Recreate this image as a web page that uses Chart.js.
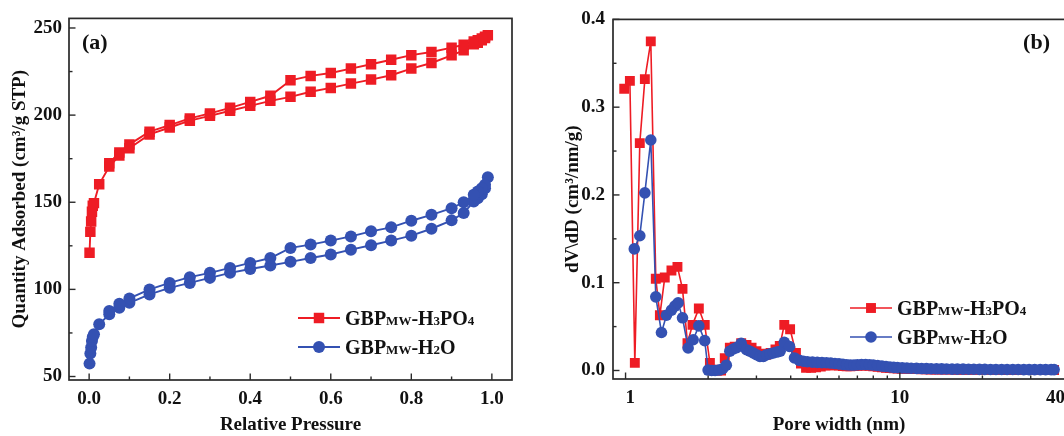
<!DOCTYPE html>
<html>
<head>
<meta charset="utf-8">
<script src="https://cdn.jsdelivr.net/npm/chart.js@4.4.1/dist/chart.umd.min.js"></script>
<style>
  html, body { margin: 0; padding: 0; background: #fff; overflow: hidden; width: 1064px; height: 436px; }
  canvas { position: absolute; top: 0; }
</style>
</head>
<body>
<canvas id="isotherm" width="530" height="436" style="left:0"></canvas>
<canvas id="psd" width="550" height="436" style="left:530px"></canvas>
<script>
// N2 isotherms: adsorption then desorption branch for each sample
const h3po4AdsP = [0.001, 0.003, 0.005, 0.007, 0.009, 0.012, 0.025, 0.05, 0.075, 0.1, 0.15, 0.2, 0.25, 0.3, 0.35, 0.4, 0.45, 0.5, 0.55, 0.6, 0.65, 0.7, 0.75, 0.8, 0.85, 0.9, 0.93, 0.955, 0.965, 0.975, 0.983, 0.99];
const h3po4AdsQ = [121, 133, 139, 144.5, 148, 149.5, 160.3, 170.5, 176.8, 181, 188.9, 192.9, 196.8, 199.6, 202.5, 205.3, 208.2, 210.5, 213.4, 215.6, 218.1, 220.4, 222.9, 226.7, 229.9, 234.3, 237.2, 240.6, 241.5, 242.9, 244.2, 245.8];
const h3po4DesP = [0.983, 0.975, 0.965, 0.955, 0.93, 0.9, 0.85, 0.8, 0.75, 0.7, 0.65, 0.6, 0.55, 0.5, 0.45, 0.4, 0.35, 0.3, 0.25, 0.2, 0.15, 0.1, 0.075, 0.05];
const h3po4DesQ = [245, 244, 243, 242.2, 240.4, 238.7, 236.2, 234.4, 231.8, 229.2, 226.7, 224.2, 222.5, 220, 211.1, 207.6, 204.2, 201, 198.1, 194.3, 190.5, 183.2, 178.6, 172.4];

const h2oAdsP = [0.001, 0.003, 0.005, 0.007, 0.009, 0.012, 0.025, 0.05, 0.075, 0.1, 0.15, 0.2, 0.25, 0.3, 0.35, 0.4, 0.45, 0.5, 0.55, 0.6, 0.65, 0.7, 0.75, 0.8, 0.85, 0.9, 0.93, 0.955, 0.965, 0.975, 0.983, 0.99];
const h2oAdsQ = [57.4, 63.2, 66.6, 70.4, 72.7, 74.2, 80, 85.7, 89.5, 92.3, 97.1, 100.9, 103.7, 106.6, 109.5, 111.7, 113.7, 115.8, 118, 120, 122.8, 125.3, 128, 130.8, 134.8, 139.6, 143.8, 150.4, 152.3, 154.6, 158, 164.4];
const h2oDesP = [0.983, 0.975, 0.965, 0.955, 0.93, 0.9, 0.85, 0.8, 0.75, 0.7, 0.65, 0.6, 0.55, 0.5, 0.45, 0.4, 0.35, 0.3, 0.25, 0.2, 0.15, 0.1, 0.075, 0.05];
const h2oDesQ = [160, 158, 156.2, 154.3, 150, 146.6, 142.8, 139.4, 135.6, 133.3, 130.4, 128, 125.7, 123.8, 118, 115.2, 112.3, 109.5, 107, 103.7, 100, 94.8, 91.7, 87.6];

// pore size distributions (nm, cm3/nm/g)
const h3po4Width = [0.989, 1.037, 1.081, 1.127, 1.176, 1.236, 1.289, 1.334, 1.39, 1.47, 1.546, 1.613, 1.682, 1.754, 1.85, 1.944, 2.03, 2.09, 2.16, 2.23, 2.30, 2.40, 2.50, 2.64, 2.76, 2.88, 3.0, 3.12, 3.25, 3.38, 3.52, 3.65, 3.79, 3.98, 4.18, 4.36,
  4.55, 4.75, 4.95, 5.15, 5.35, 5.55, 5.8, 6.0, 6.2, 6.4, 6.6, 6.8, 7.0, 7.25, 7.5, 7.75, 8.0, 8.3, 8.6, 8.9, 9.2, 9.5, 9.8, 10.2, 10.6, 11.0, 11.5, 12.0, 12.5, 13.0, 13.6, 14.2, 14.8, 15.5, 16.2, 17.0, 17.8, 18.6, 19.5, 20.4, 21.4, 22.4, 23.5, 24.6, 25.8, 27.0, 28.3, 29.6, 31.0, 32.5, 34.0, 35.6, 36.5];
const h3po4Dv = [0.321, 0.330, 0.0087, 0.259, 0.332, 0.375, 0.1046, 0.063, 0.106, 0.114, 0.118, 0.093, 0.031, 0.052, 0.0707, 0.052, 0.0087, 0.001, 0.0, 0.0, 0.014, 0.026, 0.027, 0.031, 0.029, 0.026, 0.022, 0.019, 0.018, 0.020, 0.024, 0.028, 0.052, 0.047, 0.020, 0.008,
  0.003, 0.003, 0.0035, 0.0045, 0.0055, 0.006, 0.006, 0.0055, 0.005, 0.0048, 0.0048, 0.005, 0.0052, 0.0055, 0.0055, 0.0052, 0.0048, 0.0042, 0.0036, 0.0032, 0.0028, 0.0025, 0.0022, 0.002, 0.0018, 0.0016, 0.0015, 0.0014, 0.0013, 0.0012, 0.0011, 0.0011, 0.001, 0.001, 0.0009, 0.0009, 0.0008, 0.0008, 0.0008, 0.0007, 0.0007, 0.0007, 0.0007, 0.0006, 0.0006, 0.0006, 0.0006, 0.0006, 0.0005, 0.0005, 0.0005, 0.0005, 0.0005];

const h2oWidth = [1.076, 1.127, 1.176, 1.236, 1.289, 1.352, 1.41, 1.47, 1.512, 1.555, 1.613, 1.691, 1.764, 1.85, 1.944, 2.0, 2.06, 2.12, 2.19, 2.26, 2.33, 2.40, 2.47, 2.54, 2.64, 2.76, 2.84, 2.92, 3.0, 3.09, 3.18, 3.27, 3.36, 3.46, 3.56, 3.66, 3.79, 3.96, 4.13, 4.30,
  4.45, 4.6, 4.8, 5.0, 5.2, 5.4, 5.6, 5.8, 6.0, 6.2, 6.4, 6.6, 6.8, 7.0, 7.25, 7.5, 7.75, 8.0, 8.3, 8.6, 8.9, 9.2, 9.5, 9.8, 10.2, 10.6, 11.0, 11.5, 12.0, 12.5, 13.0, 13.6, 14.2, 14.8, 15.5, 16.2, 17.0, 17.8, 18.6, 19.5, 20.4, 21.4, 22.4, 23.5, 24.6, 25.8, 27.0, 28.3, 29.6, 31.0, 32.5, 34.0, 35.6, 36.5];
const h2oDv = [0.1385, 0.1535, 0.2024, 0.2626, 0.0839, 0.0433, 0.063, 0.0688, 0.0733, 0.077, 0.060, 0.0256, 0.035, 0.0508, 0.034, 0.0005, 0.0, 0.0, 0.0005, 0.002, 0.006, 0.022, 0.0245, 0.026, 0.031, 0.0237, 0.022, 0.020, 0.018, 0.016, 0.016, 0.018, 0.019, 0.020, 0.021, 0.022, 0.032, 0.0274, 0.0143, 0.0116,
  0.0105, 0.010, 0.0095, 0.0092, 0.009, 0.0088, 0.0085, 0.008, 0.0075, 0.007, 0.0065, 0.0062, 0.0062, 0.0065, 0.0068, 0.0068, 0.0066, 0.0062, 0.0056, 0.005, 0.0045, 0.004, 0.0036, 0.0033, 0.003, 0.0028, 0.0026, 0.0024, 0.0022, 0.0021, 0.002, 0.0019, 0.0018, 0.0017, 0.0016, 0.0015, 0.0015, 0.0014, 0.0014, 0.0013, 0.0013, 0.0012, 0.0012, 0.0012, 0.0011, 0.0011, 0.0011, 0.001, 0.001, 0.001, 0.001, 0.001, 0.001, 0.001];

// axis ticks
const pressureMajor = [0, 0.2, 0.4, 0.6, 0.8, 1.0];
const pressureMinor = [0.1, 0.3, 0.5, 0.7, 0.9];
const quantityMajor = [50, 100, 150, 200, 250];
const quantityMinor = [75, 125, 175, 225];
const widthMajor = [1, 10, 40];
const widthMinor = [2, 3, 4, 5, 6, 7, 8, 9, 20, 30];
const dvMajor = [0, 0.1, 0.2, 0.3, 0.4];
const dvMinor = [0.05, 0.15, 0.25, 0.35];

const RED = '#ee1c24';
const BLUE = '#3451b2';
const INK = '#111';
const SERIF = '"Liberation Serif", "Times New Roman", serif';

const pts = (xs, ys) => xs.map((x, i) => ({ x, y: ys[i] }));

// box frame plus inward major/minor tick marks
const frameTicks = {
  id: 'frameTicks',
  afterDraw(chart, args, o) {
    const { ctx, chartArea: a, scales } = chart;
    ctx.save();
    ctx.strokeStyle = '#2a2a2a';
    ctx.lineWidth = 1.7;
    ctx.strokeRect(a.left, a.top, a.right - a.left, a.bottom - a.top);
    ctx.lineWidth = 1.4;
    const marks = (axis, values, len) => values.forEach(v => {
      const p = scales[axis].getPixelForValue(v);
      ctx.beginPath();
      if (axis === 'x') { ctx.moveTo(p, a.bottom); ctx.lineTo(p, a.bottom - len); }
      else { ctx.moveTo(a.left, p); ctx.lineTo(a.left + len, p); }
      ctx.stroke();
    });
    marks('x', o.xMajor, 6.5); marks('x', o.xMinor, 3.5);
    marks('y', o.yMajor, 6.5); marks('y', o.yMinor, 3.5);
    ctx.font = 'bold 22px ' + SERIF;
    ctx.fillStyle = INK;
    ctx.textAlign = o.tagAlign;
    ctx.fillText(o.tag, o.tagX, 49);
    ctx.restore();
  }
};

// legend with small-cap / subscript parts in the sample names
const partsLegend = {
  id: 'partsLegend',
  afterDraw(chart, args, o) {
    const ctx = chart.ctx;
    ctx.save();
    o.items.forEach((it, i) => {
      const ds = chart.data.datasets[i];
      const y = o.y + i * o.gap;
      ctx.strokeStyle = ds.borderColor;
      ctx.lineWidth = ds.borderWidth;
      ctx.beginPath(); ctx.moveTo(o.x, y); ctx.lineTo(o.x + 42, y); ctx.stroke();
      ctx.fillStyle = ds.pointBackgroundColor;
      const r = ds.pointRadius, cx = o.x + 21;
      if (ds.pointStyle === 'rect') {
        const h = r * Math.SQRT1_2;
        ctx.fillRect(cx - h, y - h, 2 * h, 2 * h);
      } else {
        ctx.beginPath(); ctx.arc(cx, y, r, 0, Math.PI * 2); ctx.fill();
      }
      ctx.fillStyle = INK;
      ctx.textBaseline = 'alphabetic';
      let tx = o.x + 47;
      it.forEach(([txt, small]) => {
        ctx.font = 'bold ' + (small ? 13 : 20) + 'px ' + SERIF;
        ctx.fillText(txt, tx, y + 6.6);
        tx += ctx.measureText(txt).width;
      });
    });
    ctx.restore();
  }
};

const legendParts = [
  [['GBP'], ['MW', true], ['-H'], ['3', true], ['PO'], ['4', true]],
  [['GBP'], ['MW', true], ['-H'], ['2', true], ['O']]
];

const tickFont = { family: SERIF, size: 19, weight: 'bold' };
const titleFont = { family: SERIF, size: 19, weight: 'bold' };

function lineSet(label, data, color, style, radius, width, order) {
  return {
    label, data, order,
    borderColor: color, backgroundColor: color,
    pointBackgroundColor: color, pointBorderColor: color, pointBorderWidth: 0,
    pointStyle: style, pointRadius: radius,
    borderWidth: width, tension: 0
  };
}

new Chart(document.getElementById('isotherm'), {
  type: 'line',
  data: {
    datasets: [
      lineSet('GBPMW-H3PO4', pts(h3po4AdsP.concat(h3po4DesP), h3po4AdsQ.concat(h3po4DesQ)), RED, 'rect', 7.4, 1.9, 1),
      lineSet('GBPMW-H2O', pts(h2oAdsP.concat(h2oDesP), h2oAdsQ.concat(h2oDesQ)), BLUE, 'circle', 6, 1.9, 0)
    ]
  },
  options: {
    responsive: false, animation: false, devicePixelRatio: 1,
    layout: { padding: { top: 16, right: 18, left: 0, bottom: 0 } },
    plugins: {
      legend: { display: false }, tooltip: { enabled: false },
      frameTicks: { xMajor: pressureMajor, xMinor: pressureMinor, yMajor: quantityMajor, yMinor: quantityMinor, tag: '(a)', tagX: 82, tagAlign: 'left' },
      partsLegend: { items: legendParts, x: 298, y: 318, gap: 29 }
    },
    scales: {
      x: {
        type: 'linear', min: -0.05, max: 1.05,
        afterFit(s) { s.height = 56; },
        afterBuildTicks(s) { s.ticks = pressureMajor.map(v => ({ value: v })); },
        grid: { display: false, drawTicks: false }, border: { display: false },
        ticks: { font: tickFont, color: INK, padding: 8, maxRotation: 0, autoSkip: false, callback: v => v.toFixed(1) },
        title: { display: true, text: 'Relative Pressure', font: titleFont, color: INK, padding: 0 }
      },
      y: {
        type: 'linear', min: 48, max: 255.5,
        afterFit(s) { s.width = 69; },
        afterBuildTicks(s) { s.ticks = quantityMajor.map(v => ({ value: v })); },
        grid: { display: false, drawTicks: false }, border: { display: false },
        ticks: { font: tickFont, color: INK, padding: 7, autoSkip: false, callback: v => String(v) },
        title: { display: true, text: 'Quantity Adsorbed (cm³/g STP)', font: titleFont, color: INK, padding: { top: 9 } }
      }
    }
  },
  plugins: [frameTicks, partsLegend]
});

new Chart(document.getElementById('psd'), {
  type: 'line',
  data: {
    datasets: [
      lineSet('GBPMW-H3PO4', pts(h3po4Width, h3po4Dv), RED, 'rect', 7, 1.6, 1),
      lineSet('GBPMW-H2O', pts(h2oWidth, h2oDv), BLUE, 'circle', 5.8, 1.6, 0)
    ]
  },
  options: {
    responsive: false, animation: false, devicePixelRatio: 1,
    layout: { padding: { top: 16, right: 15, left: 0, bottom: 0 } },
    plugins: {
      legend: { display: false }, tooltip: { enabled: false },
      frameTicks: { xMajor: widthMajor, xMinor: widthMinor, yMajor: dvMajor, yMinor: dvMinor, tag: '(b)', tagX: 520, tagAlign: 'right' },
      partsLegend: { items: legendParts, x: 320, y: 308, gap: 29 }
    },
    scales: {
      x: {
        type: 'logarithmic', min: 0.9, max: 40,
        afterFit(s) { s.height = 57; },
        afterBuildTicks(s) { s.ticks = widthMajor.map(v => ({ value: v })); },
        grid: { display: false, drawTicks: false }, border: { display: false },
        ticks: { font: tickFont, color: INK, padding: 8, maxRotation: 0, autoSkip: false, align: 'inner', callback: v => String(v) },
        title: { display: true, text: 'Pore width (nm)', font: titleFont, color: INK, padding: 0 }
      },
      y: {
        type: 'linear', min: -0.0097, max: 0.4,
        afterFit(s) { s.width = 83; },
        afterBuildTicks(s) { s.ticks = dvMajor.map(v => ({ value: v })); },
        grid: { display: false, drawTicks: false }, border: { display: false },
        ticks: { font: tickFont, color: INK, padding: 8, autoSkip: false, callback: v => v.toFixed(1) },
        title: { display: true, text: 'dV\\dD (cm³/nm/g)', font: titleFont, color: INK, padding: { top: 32 } }
      }
    }
  },
  plugins: [frameTicks, partsLegend]
});
</script>
</body>
</html>
